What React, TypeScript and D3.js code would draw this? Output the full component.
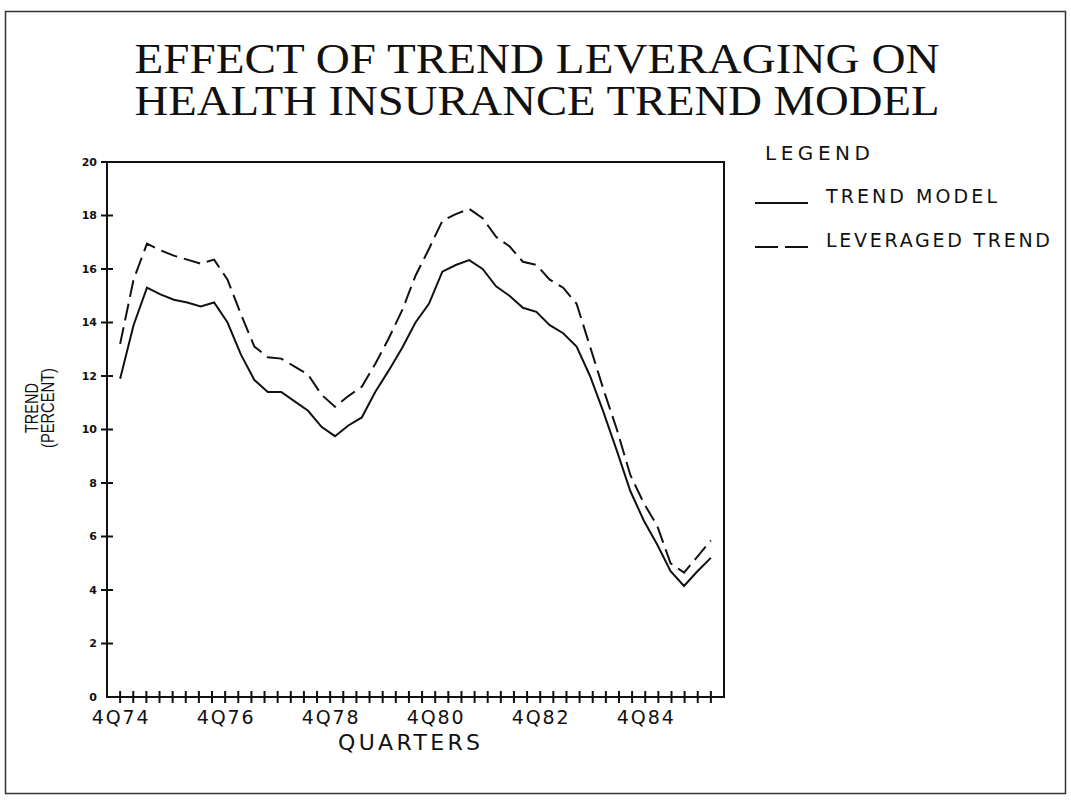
import React from 'react';
import * as d3 from 'd3';

// 45 evenly spaced readings, drawn from the 4Q74 tick to the last quarter tick
const trendModel = [
  11.9, 13.9, 15.3, 15.05, 14.85, 14.75, 14.6, 14.75, 14.0, 12.8,
  11.85, 11.4, 11.4, 11.05, 10.7, 10.1, 9.75, 10.15, 10.45, 11.4,
  12.2, 13.05, 14.0, 14.7, 15.9, 16.15, 16.33, 16.0, 15.35, 15.0,
  14.55, 14.4, 13.9, 13.6, 13.1, 12.0, 10.65, 9.2, 7.7, 6.6,
  5.7, 4.7, 4.15, 4.7, 5.2,
];
const leveragedTrend = [
  13.2, 15.6, 16.95, 16.7, 16.5, 16.35, 16.2, 16.35, 15.6, 14.3,
  13.1, 12.7, 12.65, 12.35, 12.05, 11.3, 10.85, 11.25, 11.6, 12.45,
  13.4, 14.45, 15.75, 16.75, 17.8, 18.05, 18.25, 17.9, 17.2, 16.85,
  16.27, 16.15, 15.6, 15.3, 14.7, 13.1, 11.5, 10.0, 8.3, 7.25,
  6.4, 5.0, 4.65, 5.25, 5.85,
];
const quarterLabels = ['4Q74', '4Q76', '4Q78', '4Q80', '4Q82', '4Q84'];
const yTickValues = [0, 2, 4, 6, 8, 10, 12, 14, 16, 18, 20];
const titleLines = ['EFFECT OF TREND LEVERAGING ON', 'HEALTH INSURANCE TREND MODEL'];
const legendLabels = ['TREND MODEL', 'LEVERAGED TREND'];

const width = 1071;
const height = 803;

const App: React.FC = () => {
  const svgRef = React.useRef<SVGSVGElement>(null);

  React.useEffect(() => {
    if (!svgRef.current) return;
    d3.select(svgRef.current).selectAll('*').remove();
    const svg = d3.select(svgRef.current);

    const plot = { left: 107, right: 724, top: 162, bottom: 697 };
    // axis in quarters: 0 = left edge, 1 = 4Q74
    const x = d3.scaleLinear().domain([0, 47]).range([plot.left, plot.right]);
    const y = d3.scaleLinear().domain([0, 20]).range([plot.bottom, plot.top]);
    // readings are spread from 4Q74 to tick 46
    const xData = d3.scaleLinear().domain([0, trendModel.length - 1]).range([x(1), x(46)]);
    const sans = "'DejaVu Sans', sans-serif";
    const ink = '#111';

    // outer frame
    svg.append('rect')
      .attr('x', 5.5).attr('y', 11.5)
      .attr('width', 1060).attr('height', 782)
      .attr('fill', 'none').attr('stroke', '#333').attr('stroke-width', 1.5);

    // title
    svg.append('g')
      .selectAll('text')
      .data(titleLines)
      .enter().append('text')
      .attr('x', 537)
      .attr('y', (d, i) => 73 + i * 42)
      .attr('text-anchor', 'middle')
      .attr('font-family', "'Liberation Serif', serif")
      .attr('font-size', 42)
      .attr('textLength', 805)
      .attr('lengthAdjust', 'spacingAndGlyphs')
      .attr('fill', ink)
      .text(d => d);

    // plot box
    svg.append('rect')
      .attr('x', plot.left).attr('y', plot.top)
      .attr('width', plot.right - plot.left).attr('height', plot.bottom - plot.top)
      .attr('fill', 'none').attr('stroke', ink).attr('stroke-width', 2);

    // y ticks crossing the axis
    const yAxis = svg.append('g');
    yAxis.selectAll('line')
      .data(yTickValues.filter(v => v > 0))
      .enter().append('line')
      .attr('x1', plot.left - 6).attr('x2', plot.left + 6)
      .attr('y1', d => y(d)).attr('y2', d => y(d))
      .attr('stroke', ink).attr('stroke-width', 2);
    yAxis.selectAll('text')
      .data(yTickValues)
      .enter().append('text')
      .attr('x', plot.left - 10)
      .attr('y', d => y(d))
      .attr('dy', '0.36em')
      .attr('text-anchor', 'end')
      .attr('font-family', sans)
      .attr('font-weight', 'bold')
      .attr('font-size', 11)
      .attr('fill', ink)
      .text(d => d);

    // x ticks, one per quarter
    const xAxis = svg.append('g');
    xAxis.selectAll('line')
      .data(d3.range(1, 47))
      .enter().append('line')
      .attr('x1', d => x(d)).attr('x2', d => x(d))
      .attr('y1', plot.bottom - 6).attr('y2', plot.bottom + 6)
      .attr('stroke', ink).attr('stroke-width', 2);
    xAxis.selectAll('text')
      .data(quarterLabels)
      .enter().append('text')
      .attr('x', (d, i) => x(1 + i * 8))
      .attr('y', plot.bottom + 27)
      .attr('text-anchor', 'middle')
      .attr('font-family', sans)
      .attr('font-size', 19)
      .attr('textLength', 57)
      .attr('fill', ink)
      .text(d => d);

    svg.append('text')
      .attr('x', 409)
      .attr('y', plot.bottom + 53)
      .attr('text-anchor', 'middle')
      .attr('font-family', sans)
      .attr('font-size', 22)
      .attr('textLength', 142)
      .attr('fill', ink)
      .text('QUARTERS');

    // y title
    const yTitle = svg.append('g')
      .attr('transform', `translate(0,408) rotate(-90)`);
    yTitle.append('text')
      .attr('y', 38)
      .attr('text-anchor', 'middle')
      .attr('font-family', "'Liberation Sans', sans-serif")
      .attr('font-size', 19)
      .attr('textLength', 50)
      .attr('lengthAdjust', 'spacingAndGlyphs')
      .attr('fill', ink)
      .text('TREND');
    yTitle.append('text')
      .attr('y', 54)
      .attr('text-anchor', 'middle')
      .attr('font-family', "'Liberation Sans', sans-serif")
      .attr('font-size', 19)
      .attr('textLength', 80)
      .attr('lengthAdjust', 'spacingAndGlyphs')
      .attr('fill', ink)
      .text('(PERCENT)');

    // series
    const line = d3.line<number>()
      .x((d, i) => xData(i))
      .y(d => y(d));

    svg.append('path')
      .datum(trendModel)
      .attr('d', line)
      .attr('fill', 'none')
      .attr('stroke', ink)
      .attr('stroke-width', 2);

    svg.append('path')
      .datum(leveragedTrend)
      .attr('d', line)
      .attr('fill', 'none')
      .attr('stroke', ink)
      .attr('stroke-width', 2)
      .attr('stroke-dasharray', '17 7');

    // legend
    svg.append('text')
      .attr('x', 765)
      .attr('y', 160)
      .attr('font-family', sans)
      .attr('font-size', 20)
      .attr('textLength', 105)
      .attr('fill', ink)
      .text('LEGEND');

    const legend = svg.append('g')
      .selectAll('g')
      .data(legendLabels)
      .enter().append('g')
      .attr('transform', (d, i) => `translate(755,${203 + i * 44})`);

    legend.append('line')
      .attr('x1', 0).attr('x2', 53)
      .attr('y1', 0).attr('y2', 0)
      .attr('stroke', ink)
      .attr('stroke-width', 2)
      .attr('stroke-dasharray', (d, i) => (i === 0 ? null : '23 7'));

    legend.append('text')
      .attr('x', 71)
      .attr('y', 0)
      .attr('font-family', sans)
      .attr('font-size', 19)
      .attr('textLength', (d, i) => (i === 0 ? 171 : 224))
      .attr('fill', ink)
      .text(d => d);
  }, []);

  return (
    <svg
      ref={svgRef}
      width={width}
      height={height}
      style={{ position: 'absolute', left: 0, top: 0, background: '#fff' }}
    />
  );
};

export default App;
